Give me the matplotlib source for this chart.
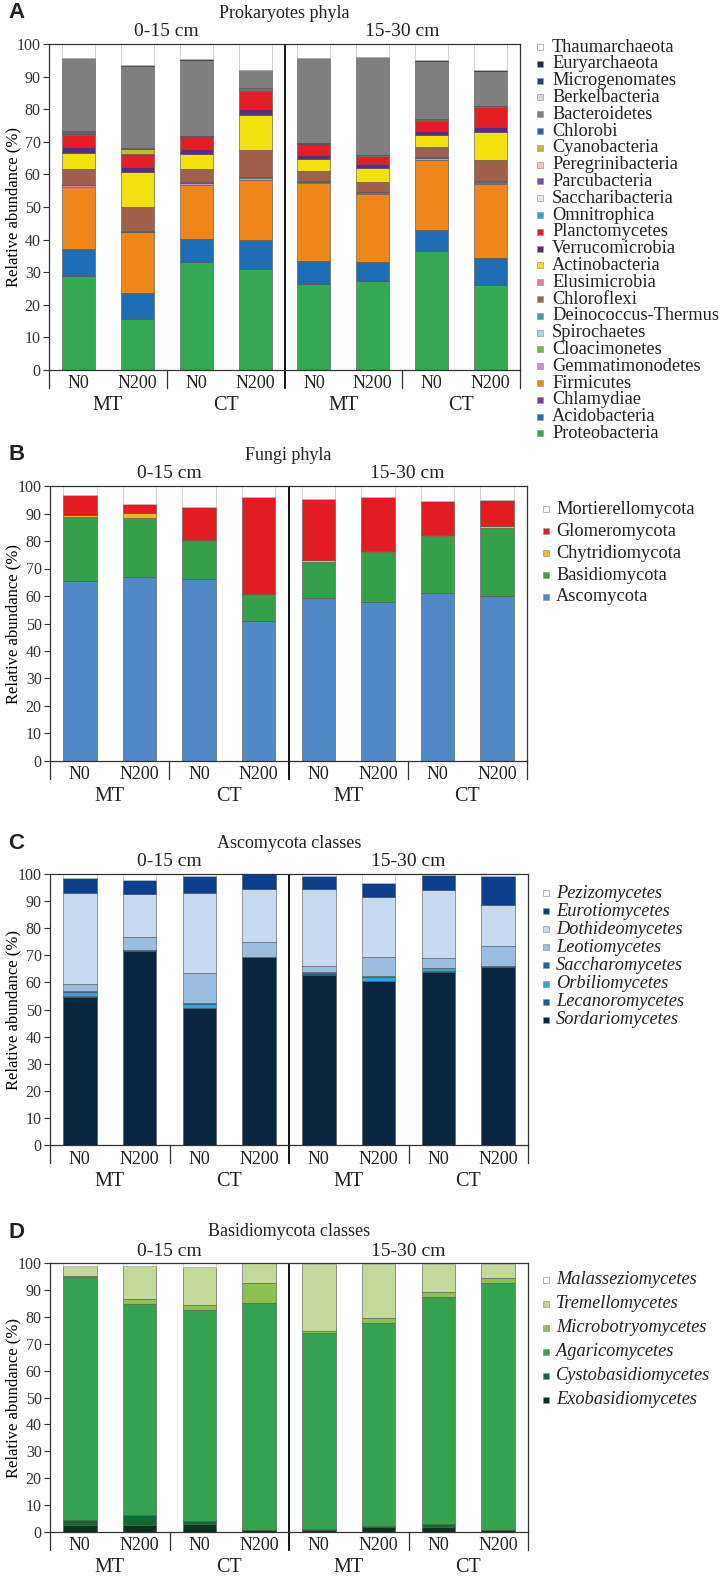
import numpy as np
import matplotlib
matplotlib.use("Agg")
import matplotlib.pyplot as plt
from matplotlib.patches import Rectangle

plt.rcParams["font.family"] = ["Liberation Serif", "DejaVu Serif"]
plt.rcParams["text.color"] = "#222222"

treatments = ["N0", "N200", "N0", "N200", "N0", "N200", "N0", "N200"]
tillage = ["MT", "CT", "MT", "CT"]
depths = ["0-15 cm", "15-30 cm"]

# ---- A: prokaryote phyla (bottom of the stack first)
proteobacteria = [28.8, 15.7, 33.1, 31.1, 26.5, 27.3, 36.5, 26.1]
acidobacteria = [8.2, 7.9, 7.1, 8.9, 6.9, 5.8, 6.3, 8.4]
chlamydiae = [0.0, 0.0, 0.0, 0.0, 0.0, 0.0, 0.0, 0.0]
firmicutes = [19.1, 18.6, 16.6, 18.4, 23.9, 21.0, 21.7, 22.6]
gemmatimonodetes = [0.6, 0.2, 0.6, 0.6, 0.4, 0.3, 0.5, 0.3]
cloacimonetes = [0.0, 0.0, 0.0, 0.0, 0.0, 0.0, 0.0, 0.0]
spirochaetes = [0.1, 0.0, 0.1, 0.1, 0.1, 0.1, 0.1, 0.3]
deinococcus = [0.1, 0.1, 0.1, 0.1, 0.1, 0.1, 0.2, 0.4]
chloroflexi = [4.8, 7.5, 4.0, 8.3, 3.0, 3.0, 2.9, 6.4]
elusimicrobia = [0.1, 0.1, 0.1, 0.1, 0.1, 0.0, 0.1, 0.0]
actinobacteria = [4.9, 10.7, 4.7, 10.5, 3.7, 4.4, 3.7, 8.4]
verrucomicrobia = [1.6, 1.5, 1.4, 1.9, 1.3, 1.3, 1.3, 1.6]
planctomycetes = [3.9, 3.7, 3.7, 5.7, 3.3, 2.2, 3.2, 6.1]
omnitrophica = [0.1, 0.1, 0.1, 0.1, 0.1, 0.1, 0.1, 0.1]
saccharibacteria = [0.1, 0.0, 0.0, 0.0, 0.0, 0.0, 0.0, 0.0]
parcubacteria = [0.2, 0.1, 0.1, 0.1, 0.1, 0.1, 0.1, 0.1]
peregrinibacteria = [0.1, 0.1, 0.0, 0.2, 0.1, 0.1, 0.1, 0.2]
cyanobacteria = [0.3, 1.5, 0.1, 0.4, 0.1, 0.1, 0.1, 0.0]
chlorobi = [0.3, 0.2, 0.1, 0.1, 0.0, 0.1, 0.0, 0.0]
bacteroidetes = [22.3, 25.4, 23.2, 5.4, 25.9, 29.9, 17.9, 10.8]
berkelbacteria = [0.0, 0.0, 0.0, 0.0, 0.0, 0.0, 0.0, 0.0]
microgenomates = [0.1, 0.1, 0.1, 0.0, 0.1, 0.1, 0.1, 0.0]
euryarchaeota = [0.1, 0.1, 0.1, 0.1, 0.1, 0.1, 0.1, 0.1]
thaumarchaeota = [4.2, 6.4, 4.7, 7.9, 4.2, 3.9, 5.0, 8.1]

# ---- B: fungi phyla
ascomycota = [65.3, 66.8, 66.3, 50.8, 59.1, 57.9, 61.0, 60.1]
basidiomycota = [23.3, 21.7, 13.6, 9.5, 13.4, 18.1, 21.0, 24.5]
chytridiomycota = [0.9, 1.6, 0.6, 0.3, 0.6, 0.5, 0.3, 0.9]
glomeromycota = [7.4, 3.2, 11.8, 35.4, 22.1, 19.5, 12.1, 9.3]
mortierellomycota = [3.1, 6.7, 7.7, 4.0, 4.8, 4.0, 5.6, 5.2]

# ---- C: Ascomycota classes
sordariomycetes = [54.7, 71.7, 50.4, 69.2, 62.7, 60.6, 64.0, 65.8]
lecanoromycetes = [0.1, 0.2, 0.1, 0.0, 0.9, 0.1, 0.1, 0.1]
orbiliomycetes = [1.8, 0.1, 1.6, 0.1, 0.1, 1.2, 1.1, 0.0]
saccharomycetes = [0.2, 0.0, 0.3, 0.0, 0.0, 0.5, 0.1, 0.0]
leotiomycetes = [2.5, 4.6, 11.2, 5.5, 2.4, 7.1, 3.6, 7.5]
dothideomycetes = [33.8, 15.9, 29.3, 19.7, 28.4, 22.1, 25.2, 15.2]
eurotiomycetes = [5.3, 5.3, 6.5, 5.4, 4.9, 5.2, 5.5, 10.7]
pezizomycetes = [1.6, 2.2, 0.6, 0.1, 0.6, 3.2, 0.4, 0.7]

# ---- D: Basidiomycota classes
exobasidiomycetes = [2.5, 2.5, 3.1, 0.6, 0.9, 1.9, 1.9, 0.6]
cystobasidiomycetes = [2.1, 3.7, 0.9, 0.3, 0.1, 0.2, 1.2, 0.1]
agaricomycetes = [90.1, 78.5, 78.4, 84.2, 72.9, 75.5, 84.2, 91.8]
microbotryomycetes = [0.3, 1.9, 2.1, 7.4, 0.9, 1.9, 2.1, 1.9]
tremellomycetes = [4.0, 12.4, 14.0, 7.5, 25.0, 20.3, 10.4, 5.4]
malasseziomycetes = [1.0, 1.0, 1.5, 0.0, 0.2, 0.2, 0.2, 0.2]

prok_layers = [
    ("Proteobacteria", proteobacteria, "#35a852"),
    ("Acidobacteria", acidobacteria, "#1f6eb5"),
    ("Chlamydiae", chlamydiae, "#7d3c98"),
    ("Firmicutes", firmicutes, "#ef8619"),
    ("Gemmatimonodetes", gemmatimonodetes, "#d98ed0"),
    ("Cloacimonetes", cloacimonetes, "#7cb342"),
    ("Spirochaetes", spirochaetes, "#a8d8e6"),
    ("Deinococcus-Thermus", deinococcus, "#3a9cc0"),
    ("Chloroflexi", chloroflexi, "#a0604a"),
    ("Elusimicrobia", elusimicrobia, "#e87a9a"),
    ("Actinobacteria", actinobacteria, "#f2e10e"),
    ("Verrucomicrobia", verrucomicrobia, "#5b2c83"),
    ("Planctomycetes", planctomycetes, "#e31e24"),
    ("Omnitrophica", omnitrophica, "#2ea8d6"),
    ("Saccharibacteria", saccharibacteria, "#e6e9ef"),
    ("Parcubacteria", parcubacteria, "#7b52a3"),
    ("Peregrinibacteria", peregrinibacteria, "#f4c7c3"),
    ("Cyanobacteria", cyanobacteria, "#c8b92c"),
    ("Chlorobi", chlorobi, "#2a5ca8"),
    ("Bacteroidetes", bacteroidetes, "#7f7f7f"),
    ("Berkelbacteria", berkelbacteria, "#d9d9d9"),
    ("Microgenomates", microgenomates, "#2e3c8f"),
    ("Euryarchaeota", euryarchaeota, "#1f2d4a"),
    ("Thaumarchaeota", thaumarchaeota, "white"),
]

fungi_layers = [
    ("Ascomycota", ascomycota, "#5189c6"),
    ("Basidiomycota", basidiomycota, "#35a04a"),
    ("Chytridiomycota", chytridiomycota, "#f6b81c"),
    ("Glomeromycota", glomeromycota, "#e31b23"),
    ("Mortierellomycota", mortierellomycota, "white"),
]

asco_layers = [
    ("Sordariomycetes", sordariomycetes, "#0a2540"),
    ("Lecanoromycetes", lecanoromycetes, "#1d5a8e"),
    ("Orbiliomycetes", orbiliomycetes, "#2aa9dc"),
    ("Saccharomycetes", saccharomycetes, "#1a6aa0"),
    ("Leotiomycetes", leotiomycetes, "#9cbce0"),
    ("Dothideomycetes", dothideomycetes, "#c8daef"),
    ("Eurotiomycetes", eurotiomycetes, "#0e3f8c"),
    ("Pezizomycetes", pezizomycetes, "white"),
]

basidio_layers = [
    ("Exobasidiomycetes", exobasidiomycetes, "#0b3320"),
    ("Cystobasidiomycetes", cystobasidiomycetes, "#0e6b32"),
    ("Agaricomycetes", agaricomycetes, "#34a24f"),
    ("Microbotryomycetes", microbotryomycetes, "#8cc152"),
    ("Tremellomycetes", tremellomycetes, "#c5d89b"),
    ("Malasseziomycetes", malasseziomycetes, "white"),
]

W, H = 720, 1577
fig = plt.figure(figsize=(W / 100, H / 100), dpi=100)


def draw_panel(box, layers, letter, title, key, italic):
    """box = (left, top, right, bottom) in pixels from the top-left corner,
    key = (marker x, text x, first y, step) in pixels"""
    left, top, right, bottom = box
    wpx, hpx = right - left, bottom - top
    ax = fig.add_axes([left / W, 1 - bottom / H, wpx / W, hpx / H])
    xpos = np.arange(len(treatments))
    base = np.zeros(len(treatments))
    for name, vals, col in layers:
        edge = "#b5b5b5" if col == "white" else "#505050"
        ax.bar(xpos, vals, 0.56, bottom=base, color=col, edgecolor=edge, linewidth=0.4)
        base = base + np.array(vals)

    ax.set_xlim(-0.5, 7.5)
    ax.set_ylim(0, 100)
    ax.set_yticks(range(0, 101, 10))
    ax.set_xticks([])
    ax.tick_params(axis="y", direction="out", length=4, width=0.8, labelsize=11.5,
                   pad=2, colors="#333333")
    ax.set_ylabel("Relative abundance (%)", fontsize=12)
    # rotated label is anchored at its lower edge, which sits on the right
    ax.yaxis.set_label_coords((21 - left) / wpx, 0.5)
    for s in ax.spines.values():
        s.set_linewidth(0.9)
        s.set_color("#333333")
    ax.axvline(3.5, color="black", lw=1.3)

    # separators and labels under the axis
    tr = ax.get_xaxis_transform()
    drop = 18 / hpx
    for xs in [-0.5, 1.5, 3.5, 5.5, 7.5]:
        ax.plot([xs, xs], [0, -drop], transform=tr, clip_on=False,
                color="black" if xs == 3.5 else "#333333", lw=1.3 if xs == 3.5 else 0.9)
    for x, lab in zip(xpos, treatments):
        ax.text(x, -14 / hpx, lab, transform=tr, ha="center", va="center", fontsize=13)
    for i, lab in enumerate(tillage):
        ax.text(2 * i + 0.5, -36 / hpx, lab, transform=tr, ha="center", va="center",
                fontsize=14.5)
    for i, lab in enumerate(depths):
        ax.text(4 * i + 1.5, 1 + 12 / hpx, lab, transform=tr, ha="center", va="center",
                fontsize=14)
    ax.text(3.5, 1 + 31 / hpx, title, transform=tr, ha="center", va="center", fontsize=13)
    fig.text(8 / W, 1 - (top - 31) / H, letter, ha="left", va="center", fontsize=16,
             fontweight="bold", family="Liberation Sans")

    # key, top entry first
    mx, tx, y0, step = key
    style = "italic" if italic else "normal"
    for i, (name, vals, col) in enumerate(reversed(layers)):
        y = y0 + i * step
        fig.add_artist(Rectangle(((mx - 3) / W, 1 - (y + 3) / H), 6 / W, 6 / H,
                                 facecolor=col, edgecolor="#9a9a9a", linewidth=0.5,
                                 transform=fig.transFigure))
        fig.text(tx / W, 1 - y / H, name, ha="left", va="center",
                 fontsize=13.2, fontstyle=style)
    return ax


draw_panel((49, 44, 520, 370), prok_layers, "A", "Prokaryotes phyla",
           (540, 552, 47, 16.8), False)
draw_panel((50, 486, 527, 761), fungi_layers, "B", "Fungi phyla",
           (546, 556, 509, 22), False)
draw_panel((50, 874, 528, 1145), asco_layers, "C", "Ascomycota classes",
           (546, 556, 893, 18.1), True)
draw_panel((50, 1263, 528, 1532), basidio_layers, "D", "Basidiomycota classes",
           (546, 556, 1280, 24), True)

fig.savefig("out.png", dpi=100)
